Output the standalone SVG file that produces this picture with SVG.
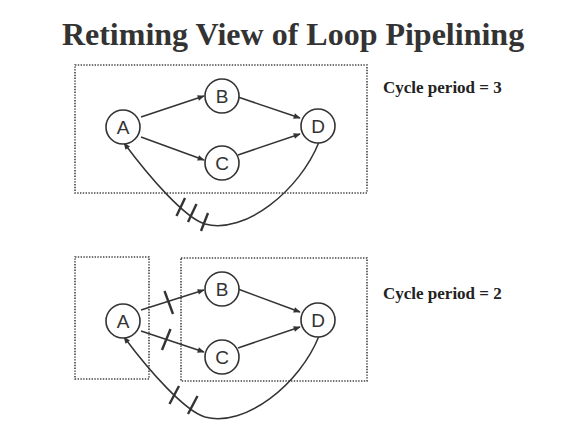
<svg xmlns="http://www.w3.org/2000/svg" width="563" height="439" viewBox="0 0 563 439">
<defs>
<marker id="ah" viewBox="0 0 10 10" refX="9" refY="5" markerWidth="8" markerHeight="7" markerUnits="userSpaceOnUse" orient="auto">
<path d="M0,1 L10,5 L0,9 z" fill="#333"/>
</marker>
</defs>
<style>
.box{fill:none;stroke:#444;stroke-width:1.6;stroke-dasharray:1.4 1.4}
.node circle{fill:#fff;stroke:#333;stroke-width:1.6}
.node text{font-family:"Liberation Sans",Arial,sans-serif;font-size:19px;fill:#333;text-anchor:middle}
.edge{fill:none;stroke:#333;stroke-width:1.5;marker-end:url(#ah)}
.tick{stroke:#333;stroke-width:2.4}
.lbl{font-family:"Liberation Serif","Times New Roman",serif;font-weight:bold;font-size:17px;fill:#222}
.title{font-family:"Liberation Serif","Times New Roman",serif;font-weight:bold;font-size:32px;fill:#333}
</style>
<rect width="563" height="439" fill="#fff"/>
<text class="title" x="293" y="45" text-anchor="middle">Retiming View of Loop Pipelining</text>
<rect class="box" x="75" y="65" width="292" height="128"/>
<rect class="box" x="75" y="257" width="74" height="122"/>
<rect class="box" x="181" y="258" width="186" height="123"/>
<text class="lbl" x="383" y="93">Cycle period = 3</text>
<text class="lbl" x="383" y="299">Cycle period = 2</text>
<g id="connectors">
<path class="edge" d="M141,117 L204,96"/>
<path class="edge" d="M141,137 L204,160"/>
<path class="edge" d="M238,97 L300,118"/>
<path class="edge" d="M238,155 L300,134"/>
<path class="edge" d="M319,142 C300,190 245,235 205,224 C185,218 150,178 124,143"/>
<line class="tick" x1="185" y1="198" x2="176.5" y2="216"/>
<line class="tick" x1="196.5" y1="204" x2="188" y2="222"/>
<line class="tick" x1="208" y1="213" x2="201" y2="231"/>
<path class="edge" d="M141,310 L204,290"/>
<path class="edge" d="M141,331 L204,352"/>
<path class="edge" d="M238,289 L300,312"/>
<path class="edge" d="M238,348 L300,327"/>
<path class="edge" d="M319,336 C300,384 245,428 205,417 C185,411 150,372 124,337"/>
<line class="tick" x1="164.5" y1="291" x2="173" y2="314"/>
<line class="tick" x1="170.5" y1="329" x2="162" y2="350"/>
<line class="tick" x1="179" y1="386" x2="169.5" y2="404"/>
<line class="tick" x1="197.5" y1="396" x2="188" y2="414"/>
</g>
<g id="A1" class="node"><circle cx="123" cy="127" r="17"/><text x="123" y="134">A</text></g>
<g id="B1" class="node"><circle cx="222" cy="96" r="17"/><text x="222" y="103">B</text></g>
<g id="C1" class="node"><circle cx="222" cy="163" r="17"/><text x="222" y="170">C</text></g>
<g id="D1" class="node"><circle cx="318" cy="126" r="17"/><text x="318" y="133">D</text></g>
<g id="A2" class="node"><circle cx="123" cy="321" r="17"/><text x="123" y="328">A</text></g>
<g id="B2" class="node"><circle cx="222" cy="289" r="17"/><text x="222" y="296">B</text></g>
<g id="C2" class="node"><circle cx="222" cy="357" r="17"/><text x="222" y="364">C</text></g>
<g id="D2" class="node"><circle cx="318" cy="320" r="17"/><text x="318" y="327">D</text></g>
</svg>
